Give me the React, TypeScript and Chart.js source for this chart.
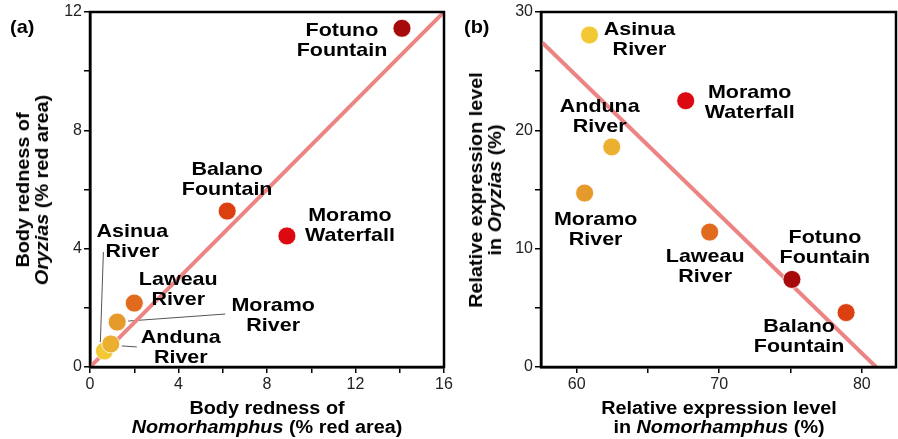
import React, { useEffect, useRef } from 'react';
import { Chart, registerables } from 'chart.js';

Chart.register(...registerables);

// ---- data ----
const sites = [
  'Asinua River',
  'Anduna River',
  'Moramo River',
  'Laweau River',
  'Balano Fountain',
  'Moramo Waterfall',
  'Fotuno Fountain',
];
const siteColors = ['#f2c935', '#ebb02f', '#e69a2c', '#e06a1e', '#dc3f10', '#dc0a10', '#a60a0a'];

// panel (a): body redness (% red area)
const rednessNomorhamphus = [0.65, 0.94, 1.23, 2.0, 6.2, 8.9, 14.1];
const rednessOryzias = [0.54, 0.78, 1.52, 2.16, 5.27, 4.43, 11.45];
const lineAX = [0, 16];
const lineAY = [0, 12];
const aXTicks = [0, 2, 4, 6, 8, 10, 12, 14, 16];
const aXLabels = [0, 4, 8, 12, 16];
const aYTicks = [0, 2, 4, 6, 8, 10, 12];
const aYLabels = [0, 4, 8, 12];

// panel (b): relative expression level (%)
const exprNomorhamphus = [60.9, 62.46, 60.56, 69.33, 78.9, 67.65, 75.1];
const exprOryzias = [28.06, 18.6, 14.7, 11.4, 4.6, 22.5, 7.4];
const lineBX = [57.6, 81.0];
const lineBY = [27.4, 0];
const bXTicks = [60, 65, 70, 75, 80];
const bXLabels = [60, 70, 80];
const bYTicks = [0, 5, 10, 15, 20, 25, 30];
const bYLabels = [0, 10, 20, 30];

// label placement (pixel offsets from point: centre x, first baseline y)
const aLabelOffsets = [[28, -114], [70, -1], [156, -11], [44, -18], [0, -36], [63, -14.5], [-60, 8]];
const aLeaders: (number[] | null)[] = [[-1, -99, -4, -9], [11, 2, 26, 3], [11, -1, 108, -8], null, null, null, null];
const bLabelOffsets = [[50, 0], [-12, -35], [11, 32], [-4.5, 30], [-47, 19], [64, -3], [33, -36]];
const bLeaders: (number[] | null)[] = [null, null, null, null, null, null, null];

const LABEL_FONT = 'bold 19px "Liberation Sans", Arial, sans-serif';
const LABEL_STRETCH = 1.13;
const TITLE_FONT = '"Liberation Sans", Arial, sans-serif';
const TICK_FONT = { family: '"Liberation Sans", Arial, sans-serif', size: 16 };
const LINE_COLOR = 'rgb(236,132,132)';

function makePlugin(offsets: number[][], leaders: (number[] | null)[]) {
  return {
    id: 'siteLabels',
    beforeDatasetsDraw(chart: any) {
      const ctx = chart.ctx;
      const meta = chart.getDatasetMeta(0);
      ctx.save();
      ctx.strokeStyle = '#555';
      ctx.lineWidth = 1;
      leaders.forEach((l, i) => {
        if (!l) return;
        const p = meta.data[i];
        ctx.beginPath();
        ctx.moveTo(p.x + l[0], p.y + l[1]);
        ctx.lineTo(p.x + l[2], p.y + l[3]);
        ctx.stroke();
      });
      ctx.restore();
    },
    afterDatasetsDraw(chart: any) {
      const ctx = chart.ctx;
      const meta = chart.getDatasetMeta(0);
      sites.forEach((name, i) => {
        const p = meta.data[i];
        const [dx, dy] = offsets[i];
        const lines = name.split(' ');
        lines.forEach((t, k) => {
          ctx.save();
          ctx.font = LABEL_FONT;
          ctx.fillStyle = '#000';
          ctx.textAlign = 'center';
          ctx.textBaseline = 'alphabetic';
          ctx.translate(p.x + dx, p.y + dy + k * 20);
          ctx.scale(LABEL_STRETCH, 1);
          ctx.fillText(t, 0, 0);
          ctx.restore();
        });
      });
    },
    afterDraw(chart: any) {
      const { left, top, right, bottom } = chart.chartArea;
      const ctx = chart.ctx;
      ctx.save();
      ctx.strokeStyle = '#000';
      ctx.lineWidth = 2.5;
      ctx.strokeRect(left, top, right - left, bottom - top);
      ctx.restore();
    },
  };
}

function axis(min: number, max: number, ticks: number[], labels: number[], isX: boolean, size: number) {
  return {
    type: 'linear',
    min,
    max,
    afterBuildTicks: (s: any) => {
      s.ticks = ticks.map((v) => ({ value: v }));
    },
    afterFit: (s: any) => {
      if (isX) {
        s.height = size;
        s.paddingLeft = 0;
        s.paddingRight = 0;
      } else {
        s.width = size;
        s.paddingTop = 0;
        s.paddingBottom = 0;
      }
    },
    ticks: {
      callback: (v: number) => (labels.includes(v) ? String(v) : ''),
      font: TICK_FONT,
      color: '#222',
      padding: 2,
      autoSkip: false,
      maxRotation: 0,
    },
    grid: { drawOnChartArea: false, drawTicks: true, tickLength: 6, color: '#000', lineWidth: 1.5 },
    border: { display: true, color: '#000', width: 2.5 },
  };
}

function buildConfig(
  xs: number[], ys: number[], lx: number[], ly: number[],
  xr: [number, number], yr: [number, number],
  xt: number[], xl: number[], yt: number[], yl: number[],
  offsets: number[][], leaders: (number[] | null)[],
  pad: { left: number; right: number; top: number },
  yWidth: number,
) {
  return {
    type: 'scatter',
    data: {
      datasets: [
        {
          data: xs.map((x, i) => ({ x, y: ys[i] })),
          backgroundColor: siteColors,
          borderColor: 'rgba(255,255,255,0.8)',
          borderWidth: 1,
          pointRadius: 9,
          order: 1,
        },
        {
          type: 'line',
          data: lx.map((x, i) => ({ x, y: ly[i] })),
          borderColor: LINE_COLOR,
          borderWidth: 4,
          pointRadius: 0,
          showLine: true,
          fill: false,
          order: 2,
        },
      ],
    },
    options: {
      responsive: false,
      animation: false,
      devicePixelRatio: 1,
      layout: { autoPadding: false, padding: { left: pad.left, right: pad.right, top: pad.top, bottom: 0 } },
      plugins: { legend: { display: false }, tooltip: { enabled: false } },
      scales: {
        x: axis(xr[0], xr[1], xt, xl, true, 72),
        y: axis(yr[0], yr[1], yt, yl, false, yWidth),
      },
    },
    plugins: [makePlugin(offsets, leaders)],
  };
}

function ChartCanvas({ config, width, left }: { config: any; width: number; left: number }) {
  const ref = useRef<HTMLCanvasElement>(null);
  useEffect(() => {
    const c = new Chart(ref.current as HTMLCanvasElement, config);
    return () => c.destroy();
  }, []);
  return (
    <canvas
      ref={ref}
      width={width}
      height={439}
      style={{ position: 'absolute', left, top: 0, width, height: 439, display: 'block' }}
    />
  );
}

const titleStyle: React.CSSProperties = {
  position: 'absolute',
  fontFamily: TITLE_FONT,
  fontWeight: 'bold',
  fontSize: 18,
  lineHeight: '19px',
  color: '#000',
  textAlign: 'center',
  whiteSpace: 'nowrap',
};

function XTitle({ cx, cy, children }: { cx: number; cy: number; children: React.ReactNode }) {
  return (
    <div style={{ ...titleStyle, left: cx, top: cy, transform: 'translate(-50%, -50%) scaleX(1.1)' }}>{children}</div>
  );
}
function YTitle({ cx, cy, children }: { cx: number; cy: number; children: React.ReactNode }) {
  return (
    <div style={{ ...titleStyle, left: cx, top: cy, transform: 'translate(-50%, -50%) rotate(-90deg) scaleX(1.1)' }}>
      {children}
    </div>
  );
}

export default function App() {
  const cfgA = buildConfig(
    rednessNomorhamphus, rednessOryzias, lineAX, lineAY,
    [0, 16], [0, 12], aXTicks, aXLabels, aYTicks, aYLabels,
    aLabelOffsets, aLeaders, { left: 0, right: 16, top: 12 }, 90,
  );
  const cfgB = buildConfig(
    exprNomorhamphus, exprOryzias, lineBX, lineBY,
    [57.5, 82.4], [0, 30], bXTicks, bXLabels, bYTicks, bYLabels,
    bLabelOffsets, bLeaders, { left: 0, right: 2, top: 12 }, 81,
  );
  return (
    <div style={{ position: 'fixed', left: 0, top: 0, width: 898, height: 439, background: '#fff', overflow: 'hidden' }}>
      <ChartCanvas config={cfgA} width={460} left={0} />
      <ChartCanvas config={cfgB} width={438} left={460} />
      <div style={{ ...titleStyle, left: 10, top: 17, fontSize: 19, transform: 'scaleX(1.05)', transformOrigin: 'left' }}>(a)</div>
      <div style={{ ...titleStyle, left: 464, top: 17, fontSize: 19, transform: 'scaleX(1.05)', transformOrigin: 'left' }}>(b)</div>
      <XTitle cx={267} cy={418}>
        Body redness of
        <br />
        <i>Nomorhamphus</i> (% red area)
      </XTitle>
      <YTitle cx={33} cy={190}>
        Body redness of
        <br />
        <i>Oryzias</i> (% red area)
      </YTitle>
      <XTitle cx={719} cy={418}>
        Relative expression level
        <br />
        in <i>Nomorhamphus</i> (%)
      </XTitle>
      <YTitle cx={486} cy={190}>
        Relative expression level
        <br />
        in <i>Oryzias</i> (%)
      </YTitle>
    </div>
  );
}
